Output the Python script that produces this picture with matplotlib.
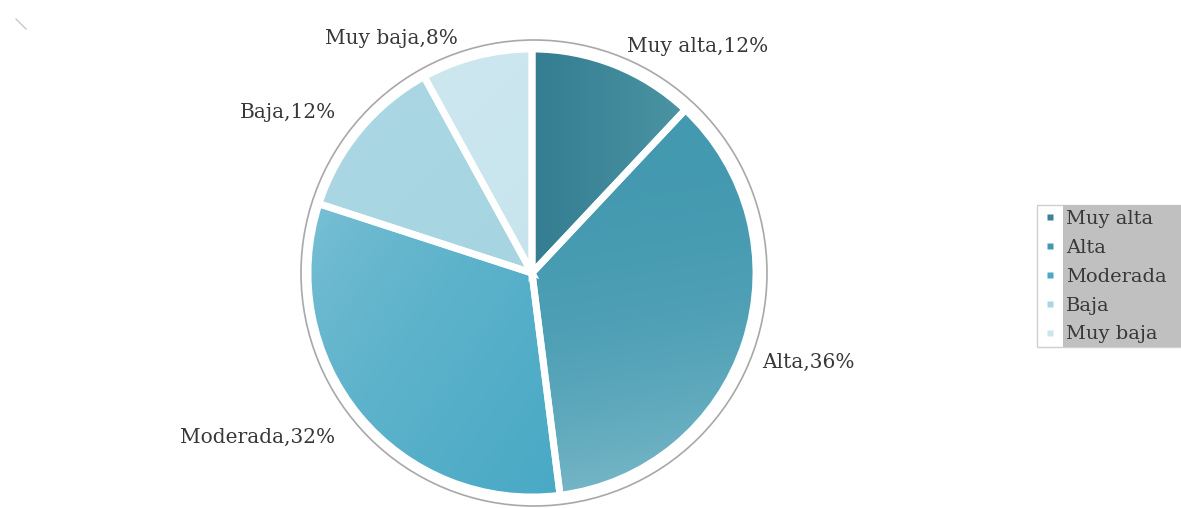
import matplotlib.pyplot as plt
import numpy as np
from matplotlib.colors import to_rgb
from matplotlib.lines import Line2D
from matplotlib.patches import Circle, Rectangle

# Category shares (percent), clockwise from 12 o'clock
categories = ["Muy alta", "Alta", "Moderada", "Baja", "Muy baja"]
shares = [12, 36, 32, 12, 8]

# Gradient per slice: (start colour, end colour, direction in degrees, curve exponent)
slice_fills = [
    ("#347d92", "#4b94a3", 0, 1.0),
    ("#4399b0", "#80bccb", -80, 2.6),
    ("#80c3d6", "#49a9c5", -35, 0.55),
    ("#acd8e5", "#a6d4e1", -45, 1.0),
    ("#cde7ef", "#c7e4ec", -45, 1.0),
]
legend_colors = ["#3a8396", "#4399b0", "#4aaac5", "#a8d6e3", "#cae6ee"]

# Label anchor points, in pixels from the top-left corner
label_pos = [(698, 46), (808, 362), (258, 437), (288, 112), (391, 39)]

W, H = 1181, 508
FONT = "DejaVu Serif"
TEXT = "#383838"


def gradient_fill(ax, wedge, c0, c1, angle, power):
    """Paint a linear gradient clipped to the wedge outline."""
    ext = wedge.get_path().get_extents()
    xs = np.linspace(ext.x0, ext.x1, 150)
    ys = np.linspace(ext.y0, ext.y1, 150)
    X, Y = np.meshgrid(xs, ys)
    a = np.deg2rad(angle)
    t = X * np.cos(a) + Y * np.sin(a)
    t = ((t - t.min()) / (t.max() - t.min())) ** power
    rgb = (1 - t)[..., None] * np.array(to_rgb(c0)) + t[..., None] * np.array(to_rgb(c1))
    im = ax.imshow(rgb, extent=(ext.x0, ext.x1, ext.y0, ext.y1), origin="lower",
                   interpolation="bilinear", zorder=wedge.get_zorder() - 0.1)
    im.set_clip_path(wedge)
    wedge.set_facecolor("none")


fig = plt.figure(figsize=(W / 100, H / 100), dpi=100)
ax = fig.add_axes([0, 0, 1, 1])

cx, cy = 532, H - 273
radius = 224

# faint outline ring around the pie
ax.add_patch(Circle((cx + 2, cy), 233, facecolor="none", edgecolor="#a8a8a8", linewidth=1.2, zorder=1))

wedges, _ = ax.pie(
    shares,
    startangle=90,
    counterclock=False,
    explode=[0.025] * len(shares),
    radius=radius,
    center=(cx, cy),
    colors=legend_colors,
    wedgeprops=dict(edgecolor="white", linewidth=5, zorder=3),
    frame=True,
)
for w, (c0, c1, ang, pw) in zip(wedges, slice_fills):
    gradient_fill(ax, w, c0, c1, ang, pw)

for name, pct, (px, py) in zip(categories, shares, label_pos):
    ax.text(px, H - py, f"{name},{pct}%", ha="center", va="center",
            fontsize=14.5, family=FONT, color=TEXT, zorder=5)

ax.set_xlim(0, W)
ax.set_ylim(0, H)
ax.set_aspect("equal")
ax.axis("off")

# legend box: white marker column, grey label column
ax.add_patch(Rectangle((1037, H - 347), 143, 142, facecolor="white",
                       edgecolor="#cfcfcf", linewidth=1, zorder=4))
ax.add_patch(Rectangle((1063, H - 347), 118, 142, facecolor="#c0c0c0",
                       edgecolor="none", zorder=4))

handles = [Line2D([], [], linestyle="none", marker="s", markersize=5,
                  markerfacecolor=c, markeredgecolor="none") for c in legend_colors]
leg = ax.legend(handles, categories, loc="upper left",
                bbox_to_anchor=(1042 / W, 1 - 207 / H), frameon=False,
                handlelength=0.5, handletextpad=0.6, labelspacing=0.56,
                borderpad=0.15, borderaxespad=0, prop=dict(family=FONT, size=14))
leg.set_zorder(6)
for t in leg.get_texts():
    t.set_color(TEXT)

# small mark in the top-left corner
ax.plot([16, 26], [H - 19, H - 29], color="#c8c8c8", linewidth=1, zorder=2)

fig.savefig("out.png", dpi=100)
